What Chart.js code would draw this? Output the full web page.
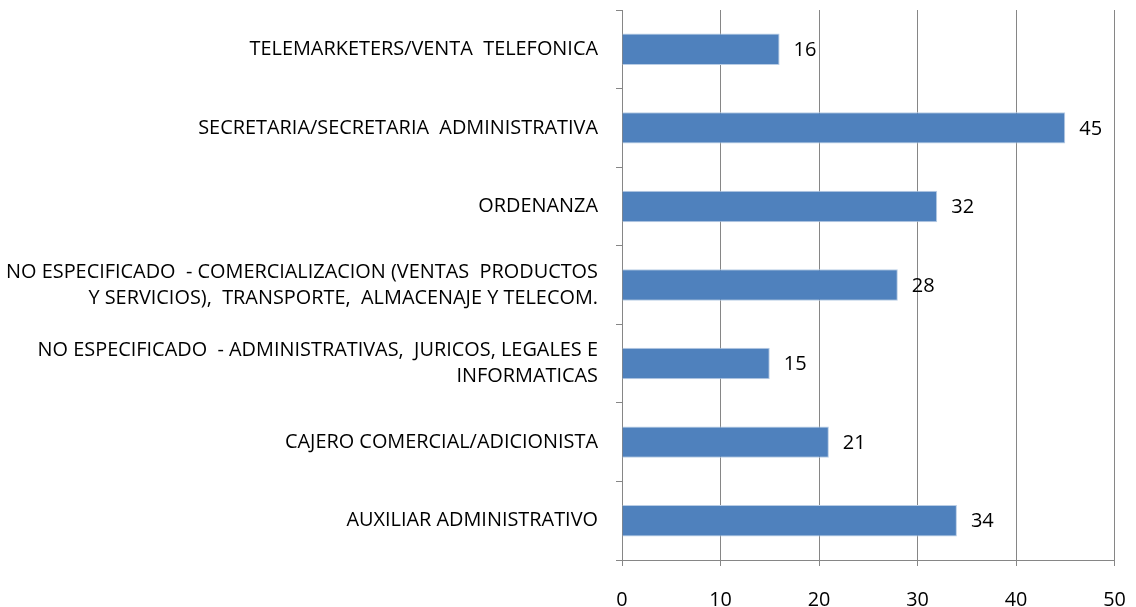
<!DOCTYPE html>
<html><head><meta charset="utf-8">
<script src="https://cdn.jsdelivr.net/npm/chart.js@4"></script>
<style>html,body{margin:0;padding:0;background:#fff}#wrap{width:1136px;height:607px}</style>
</head><body><div id="wrap"><canvas id="c" width="1136" height="607"></canvas></div>
<script>
const categories = [
  "TELEMARKETERS/VENTA  TELEFONICA",
  "SECRETARIA/SECRETARIA  ADMINISTRATIVA",
  "ORDENANZA",
  ["NO ESPECIFICADO  - COMERCIALIZACION (VENTAS  PRODUCTOS", "Y SERVICIOS),  TRANSPORTE,  ALMACENAJE Y TELECOM."],
  ["NO ESPECIFICADO  - ADMINISTRATIVAS,  JURICOS, LEGALES E", "INFORMATICAS"],
  "CAJERO COMERCIAL/ADICIONISTA",
  "AUXILIAR ADMINISTRATIVO"
];
const values = [16, 45, 32, 28, 15, 21, 34];
const xTicks = [0, 10, 20, 30, 40, 50];

const FONT = "'Open Sans', sans-serif";
const GRID = '#868686';

const valueLabels = {
  id: 'valueLabels',
  afterDatasetsDraw(chart) {
    const ctx = chart.ctx;
    const meta = chart.getDatasetMeta(0);
    ctx.save();
    ctx.font = '20px ' + FONT;
    ctx.fillStyle = '#000';
    ctx.textAlign = 'left';
    ctx.textBaseline = 'middle';
    meta.data.forEach((bar, i) => {
      ctx.fillText(String(values[i]), bar.x + 14, bar.y + 1);
    });
    ctx.restore();
  }
};

new Chart(document.getElementById('c'), {
  type: 'bar',
  data: {
    labels: categories,
    datasets: [{
      data: values,
      backgroundColor: '#4F81BD',
      borderColor: '#B9CDE5',
      borderWidth: {top:1,bottom:1,right:1,left:0},
      borderSkipped: 'left',
      categoryPercentage: 1,
      barPercentage: 0.4
    }]
  },
  options: {
    indexAxis: 'y',
    responsive: false,
    animation: false,
    layout: { padding: { top: 10, right: 21.5, left: 0, bottom: 0 } },
    plugins: { legend: { display: false }, tooltip: { enabled: false } },
    scales: {
      x: {
        min: 0, max: 50,
        afterBuildTicks(scale) { scale.ticks = xTicks.map(v => ({ value: v })); },
        afterFit(scale) { scale.height = 47; scale.paddingLeft = 0; scale.paddingRight = 0; },
        grid: { color: GRID, lineWidth: 1, tickLength: 6, drawTicks: true },
        border: { color: GRID, width: 1 },
        ticks: { color: '#000', font: { family: FONT, size: 19.8 }, padding: 22, maxRotation: 0 }
      },
      y: {
        afterFit(scale) { scale.width = 622; scale.paddingTop = 0; scale.paddingBottom = 0; },
        grid: { drawOnChartArea: false, color: GRID, tickLength: 6, drawTicks: true, offset: true },
        border: { color: GRID, width: 1 },
        ticks: { color: '#000', font: { family: FONT, size: 19.9, lineHeight: 1.32 }, padding: 18, autoSkip: false }
      }
    }
  },
  plugins: [valueLabels]
});
</script>
</body></html>
